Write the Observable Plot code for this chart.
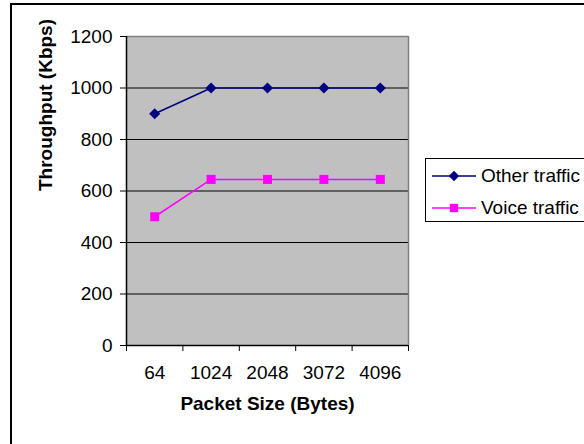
<!DOCTYPE html>
<html>
<head>
<meta charset="utf-8">
<script src="https://cdn.jsdelivr.net/npm/d3@7"></script>
<script src="https://cdn.jsdelivr.net/npm/@observablehq/plot@0.6"></script>
<style>
  html, body { margin: 0; padding: 0; background: #fff; }
  #wrap { position: relative; width: 584px; height: 444px; overflow: hidden; font-family: "Liberation Sans", Arial, sans-serif; }
  #border { position: absolute; left: 10px; top: 3px; width: 700px; height: 600px; border-left: 2px solid #000; border-top: 2px solid #000; box-sizing: border-box; pointer-events: none; }
  #legend { position: absolute; left: 425px; top: 158px; width: 220px; height: 64px; border: 1px solid #000; box-sizing: border-box; background: #fff; }
  .item { position: absolute; left: 5px; height: 24px; display: flex; align-items: center; font-size: 19px; white-space: nowrap; }
  .item svg { margin-right: 4px; }
</style>
</head>
<body>
<div id="wrap">
  <div id="chart"></div>
  <div id="border"></div>
  <div id="legend"></div>
</div>
<script>
// Packet sizes (bytes) on the category axis
const packetSizes = ["64", "1024", "2048", "3072", "4096"];
// Throughput (Kbps) per packet size
const otherTraffic = [900, 1000, 1000, 1000, 1000];
const voiceTraffic = [500, 645, 645, 645, 645];
const yTicks = [0, 200, 400, 600, 800, 1000, 1200];

const series = [
  {name: "Other traffic", values: otherTraffic, color: "#000080", symbol: "diamond2", r: 5},
  {name: "Voice traffic", values: voiceTraffic, color: "#ff00ff", symbol: "square", r: 5.1}
];

const rows = series.flatMap(s => s.values.map((v, i) => ({series: s.name, i, v})));
const idx = packetSizes.map((_, i) => i);
const bounds = [...idx.map(i => i - 0.5), packetSizes.length - 0.5];
const font = "'Liberation Sans', Arial, sans-serif";

const marks = [
  Plot.frame({fill: "#c0c0c0", stroke: null}),
  Plot.ruleY(yTicks.filter(t => t > 0 && t < 1200), {stroke: "#000", strokeWidth: 1}),
  Plot.ruleY([1200], {stroke: "#808080", strokeWidth: 1.5}),
  Plot.ruleX([packetSizes.length - 0.5], {stroke: "#808080", strokeWidth: 1.5}),
  Plot.ruleY([0], {stroke: "#000", strokeWidth: 1.5}),
  Plot.ruleX([-0.5], {stroke: "#000", strokeWidth: 1.5}),
  Plot.axisY({ticks: yTicks, tickSize: 6, tickPadding: 8, tickFormat: d => String(d), label: null, fontSize: 19}),
  Plot.axisX({ticks: bounds, tickSize: 6, tickFormat: () => "", label: null}),
  Plot.axisX({ticks: idx, tickSize: 0, tickPadding: 20, tickFormat: i => packetSizes[i], label: null, fontSize: 19}),
  Plot.text(["Throughput (Kbps)"], {frameAnchor: "left", rotate: -90, dx: -81, fontWeight: "bold", fontSize: 19}),
  Plot.text(["Packet Size (Bytes)"], {frameAnchor: "bottom", dy: 64, fontWeight: "bold", fontSize: 19})
];
for (const s of series) {
  const d = rows.filter(r => r.series === s.name);
  marks.push(Plot.line(d, {x: "i", y: "v", stroke: s.color, strokeWidth: 1.5}));
  marks.push(Plot.dot(d, {x: "i", y: "v", symbol: () => s.symbol, r: s.r, fill: s.color, stroke: "none"}));
}

const chart = Plot.plot({
  width: 584,
  height: 444,
  marginLeft: 126,
  marginRight: 176,
  marginTop: 36,
  marginBottom: 99,
  style: {fontFamily: font, fontSize: "19px", background: "#fff", color: "#000"},
  x: {type: "linear", domain: [-0.5, packetSizes.length - 0.5], axis: null},
  y: {domain: [0, 1200], axis: null},
  symbol: {type: "identity"},
  marks
});
document.getElementById("chart").append(chart);

// Legend entries
const legend = document.getElementById("legend");
series.forEach((s, k) => {
  const item = document.createElement("div");
  item.className = "item";
  item.style.top = (5 + k * 32) + "px";
  const sw = d3.create("svg").attr("width", 46).attr("height", 20);
  sw.append("line").attr("x1", 1).attr("x2", 45).attr("y1", 10).attr("y2", 10)
    .attr("stroke", s.color).attr("stroke-width", 1.5);
  const sym = s.symbol === "square" ? d3.symbolSquare : d3.symbolDiamond2;
  sw.append("path").attr("transform", "translate(23,10)")
    .attr("d", d3.symbol(sym, 70)())
    .attr("fill", s.color);
  item.append(sw.node());
  const t = document.createElement("span");
  t.textContent = s.name;
  item.append(t);
  legend.append(item);
});
</script>
</body>
</html>
